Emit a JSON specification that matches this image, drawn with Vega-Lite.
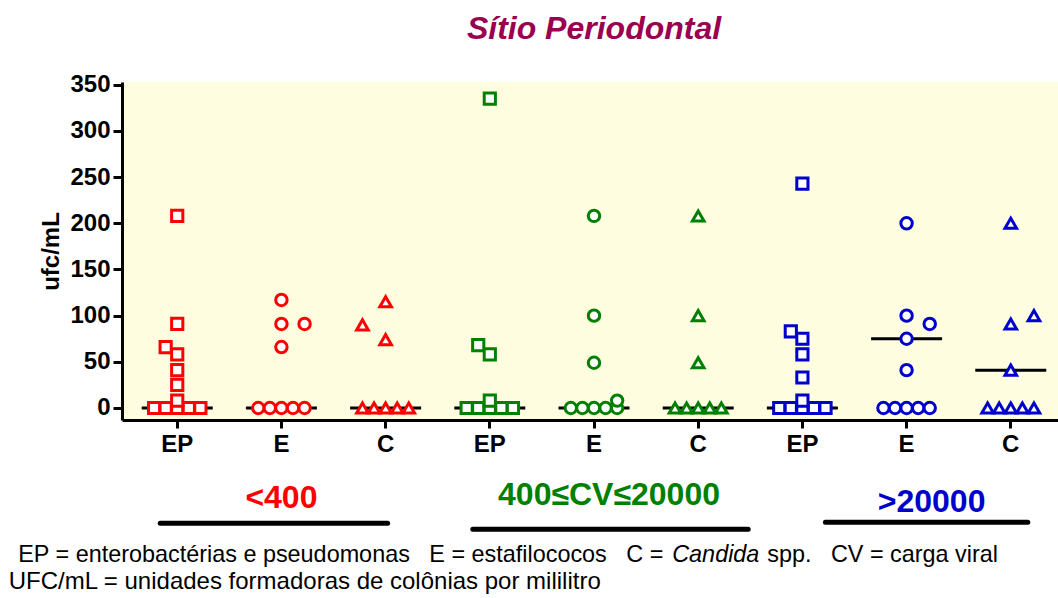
{
  "$schema": "https://vega.github.io/schema/vega-lite/v6.json",
  "autosize": {"type": "none"},
  "padding": {"left": 122, "top": 82, "right": 0, "bottom": 178},
  "width": 944,
  "height": 338,
  "background": "white",
  "config": {
    "font": "Liberation Sans",
    "view": {"fill": "#FEFDE0", "stroke": null},
    "axis": {
      "domainColor": "black", "domainWidth": 3, "tickColor": "black", "tickWidth": 3,
      "labelFontWeight": "bold", "labelFontSize": 24, "labelColor": "black", "grid": false,
      "titleFontWeight": "bold", "titleFontSize": 24, "titleColor": "black"
    }
  },
  "title": {
    "text": "Sítio Periodontal", "fontSize": 32, "fontStyle": "italic", "fontWeight": "bold",
    "color": "#990050", "anchor": "middle", "frame": "group", "baseline": "alphabetic", "offset": 2
  },
  "datasets": {
    "pontos": [
      {"cat": "EP1", "grupo": "<400", "org": "EP", "ufc": 208, "col": 0},
      {"cat": "EP1", "grupo": "<400", "org": "EP", "ufc": 91, "col": 0},
      {"cat": "EP1", "grupo": "<400", "org": "EP", "ufc": 66, "col": -1},
      {"cat": "EP1", "grupo": "<400", "org": "EP", "ufc": 58, "col": 0},
      {"cat": "EP1", "grupo": "<400", "org": "EP", "ufc": 41, "col": 0},
      {"cat": "EP1", "grupo": "<400", "org": "EP", "ufc": 25, "col": 0},
      {"cat": "EP1", "grupo": "<400", "org": "EP", "ufc": 0, "col": -2},
      {"cat": "EP1", "grupo": "<400", "org": "EP", "ufc": 0, "col": -1},
      {"cat": "EP1", "grupo": "<400", "org": "EP", "ufc": 0, "col": 0},
      {"cat": "EP1", "grupo": "<400", "org": "EP", "ufc": 0, "col": 1},
      {"cat": "EP1", "grupo": "<400", "org": "EP", "ufc": 0, "col": 2},
      {"cat": "EP1", "grupo": "<400", "org": "EP", "ufc": 8, "col": 0},
      {"cat": "E1", "grupo": "<400", "org": "E", "ufc": 117, "col": 0},
      {"cat": "E1", "grupo": "<400", "org": "E", "ufc": 91, "col": 0},
      {"cat": "E1", "grupo": "<400", "org": "E", "ufc": 91, "col": 2},
      {"cat": "E1", "grupo": "<400", "org": "E", "ufc": 66, "col": 0},
      {"cat": "E1", "grupo": "<400", "org": "E", "ufc": 0, "col": -2},
      {"cat": "E1", "grupo": "<400", "org": "E", "ufc": 0, "col": -1},
      {"cat": "E1", "grupo": "<400", "org": "E", "ufc": 0, "col": 0},
      {"cat": "E1", "grupo": "<400", "org": "E", "ufc": 0, "col": 1},
      {"cat": "E1", "grupo": "<400", "org": "E", "ufc": 0, "col": 2},
      {"cat": "C1", "grupo": "<400", "org": "C", "ufc": 115, "col": 0},
      {"cat": "C1", "grupo": "<400", "org": "C", "ufc": 90, "col": -2},
      {"cat": "C1", "grupo": "<400", "org": "C", "ufc": 74, "col": 0},
      {"cat": "C1", "grupo": "<400", "org": "C", "ufc": 0, "col": -2},
      {"cat": "C1", "grupo": "<400", "org": "C", "ufc": 0, "col": -1},
      {"cat": "C1", "grupo": "<400", "org": "C", "ufc": 0, "col": 0},
      {"cat": "C1", "grupo": "<400", "org": "C", "ufc": 0, "col": 1},
      {"cat": "C1", "grupo": "<400", "org": "C", "ufc": 0, "col": 2},
      {"cat": "EP2", "grupo": "400≤CV≤20000", "org": "EP", "ufc": 335, "col": 0},
      {"cat": "EP2", "grupo": "400≤CV≤20000", "org": "EP", "ufc": 68, "col": -1},
      {"cat": "EP2", "grupo": "400≤CV≤20000", "org": "EP", "ufc": 58, "col": 0},
      {"cat": "EP2", "grupo": "400≤CV≤20000", "org": "EP", "ufc": 0, "col": -2},
      {"cat": "EP2", "grupo": "400≤CV≤20000", "org": "EP", "ufc": 0, "col": -1},
      {"cat": "EP2", "grupo": "400≤CV≤20000", "org": "EP", "ufc": 0, "col": 0},
      {"cat": "EP2", "grupo": "400≤CV≤20000", "org": "EP", "ufc": 0, "col": 1},
      {"cat": "EP2", "grupo": "400≤CV≤20000", "org": "EP", "ufc": 0, "col": 2},
      {"cat": "EP2", "grupo": "400≤CV≤20000", "org": "EP", "ufc": 8, "col": 0},
      {"cat": "E2", "grupo": "400≤CV≤20000", "org": "E", "ufc": 208, "col": 0},
      {"cat": "E2", "grupo": "400≤CV≤20000", "org": "E", "ufc": 100, "col": 0},
      {"cat": "E2", "grupo": "400≤CV≤20000", "org": "E", "ufc": 49, "col": 0},
      {"cat": "E2", "grupo": "400≤CV≤20000", "org": "E", "ufc": 0, "col": -2},
      {"cat": "E2", "grupo": "400≤CV≤20000", "org": "E", "ufc": 0, "col": -1},
      {"cat": "E2", "grupo": "400≤CV≤20000", "org": "E", "ufc": 0, "col": 0},
      {"cat": "E2", "grupo": "400≤CV≤20000", "org": "E", "ufc": 0, "col": 1},
      {"cat": "E2", "grupo": "400≤CV≤20000", "org": "E", "ufc": 0, "col": 2},
      {"cat": "E2", "grupo": "400≤CV≤20000", "org": "E", "ufc": 8, "col": 2},
      {"cat": "C2", "grupo": "400≤CV≤20000", "org": "C", "ufc": 208, "col": 0},
      {"cat": "C2", "grupo": "400≤CV≤20000", "org": "C", "ufc": 100, "col": 0},
      {"cat": "C2", "grupo": "400≤CV≤20000", "org": "C", "ufc": 49, "col": 0},
      {"cat": "C2", "grupo": "400≤CV≤20000", "org": "C", "ufc": 0, "col": -2},
      {"cat": "C2", "grupo": "400≤CV≤20000", "org": "C", "ufc": 0, "col": -1},
      {"cat": "C2", "grupo": "400≤CV≤20000", "org": "C", "ufc": 0, "col": 0},
      {"cat": "C2", "grupo": "400≤CV≤20000", "org": "C", "ufc": 0, "col": 1},
      {"cat": "C2", "grupo": "400≤CV≤20000", "org": "C", "ufc": 0, "col": 2},
      {"cat": "EP3", "grupo": ">20000", "org": "EP", "ufc": 243, "col": 0},
      {"cat": "EP3", "grupo": ">20000", "org": "EP", "ufc": 83, "col": -1},
      {"cat": "EP3", "grupo": ">20000", "org": "EP", "ufc": 75, "col": 0},
      {"cat": "EP3", "grupo": ">20000", "org": "EP", "ufc": 58, "col": 0},
      {"cat": "EP3", "grupo": ">20000", "org": "EP", "ufc": 33, "col": 0},
      {"cat": "EP3", "grupo": ">20000", "org": "EP", "ufc": 0, "col": -2},
      {"cat": "EP3", "grupo": ">20000", "org": "EP", "ufc": 0, "col": -1},
      {"cat": "EP3", "grupo": ">20000", "org": "EP", "ufc": 0, "col": 0},
      {"cat": "EP3", "grupo": ">20000", "org": "EP", "ufc": 0, "col": 1},
      {"cat": "EP3", "grupo": ">20000", "org": "EP", "ufc": 0, "col": 2},
      {"cat": "EP3", "grupo": ">20000", "org": "EP", "ufc": 8, "col": 0},
      {"cat": "E3", "grupo": ">20000", "org": "E", "ufc": 200, "col": 0},
      {"cat": "E3", "grupo": ">20000", "org": "E", "ufc": 100, "col": 0},
      {"cat": "E3", "grupo": ">20000", "org": "E", "ufc": 91, "col": 2},
      {"cat": "E3", "grupo": ">20000", "org": "E", "ufc": 75, "col": 0},
      {"cat": "E3", "grupo": ">20000", "org": "E", "ufc": 41, "col": 0},
      {"cat": "E3", "grupo": ">20000", "org": "E", "ufc": 0, "col": -2},
      {"cat": "E3", "grupo": ">20000", "org": "E", "ufc": 0, "col": -1},
      {"cat": "E3", "grupo": ">20000", "org": "E", "ufc": 0, "col": 0},
      {"cat": "E3", "grupo": ">20000", "org": "E", "ufc": 0, "col": 1},
      {"cat": "E3", "grupo": ">20000", "org": "E", "ufc": 0, "col": 2},
      {"cat": "C3", "grupo": ">20000", "org": "C", "ufc": 200, "col": 0},
      {"cat": "C3", "grupo": ">20000", "org": "C", "ufc": 100, "col": 2},
      {"cat": "C3", "grupo": ">20000", "org": "C", "ufc": 91, "col": 0},
      {"cat": "C3", "grupo": ">20000", "org": "C", "ufc": 41, "col": 0},
      {"cat": "C3", "grupo": ">20000", "org": "C", "ufc": 0, "col": -2},
      {"cat": "C3", "grupo": ">20000", "org": "C", "ufc": 0, "col": -1},
      {"cat": "C3", "grupo": ">20000", "org": "C", "ufc": 0, "col": 0},
      {"cat": "C3", "grupo": ">20000", "org": "C", "ufc": 0, "col": 1},
      {"cat": "C3", "grupo": ">20000", "org": "C", "ufc": 0, "col": 2}
    ],
    "medianas": [
      {"cat": "EP1", "mediana": 0}, {"cat": "E1", "mediana": 0}, {"cat": "C1", "mediana": 0},
      {"cat": "EP2", "mediana": 0}, {"cat": "E2", "mediana": 0}, {"cat": "C2", "mediana": 0},
      {"cat": "EP3", "mediana": 0}, {"cat": "E3", "mediana": 75}, {"cat": "C3", "mediana": 41}
    ]
  },
  "layer": [
    {
      "data": {"name": "medianas"},
      "mark": {"type": "tick", "color": "black", "size": 71, "thickness": 3, "opacity": 1},
      "encoding": {
        "x": {
          "field": "cat", "type": "nominal",
          "scale": {"domain": ["EP1", "E1", "C1", "EP2", "E2", "C2", "EP3", "E3", "C3"], "paddingInner": 0, "paddingOuter": 0.03},
          "axis": {"title": null, "labelAngle": 0, "tickSize": 8, "labelPadding": 4, "labelExpr": "slice(datum.label, 0, -1)"}
        },
        "y": {
          "field": "mediana", "type": "quantitative",
          "scale": {"domain": [-13, 353], "nice": false, "zero": false},
          "axis": {
            "title": "ufc/mL", "titlePadding": 6,
            "values": [0, 25, 50, 75, 100, 125, 150, 175, 200, 225, 250, 275, 300, 325, 350],
            "labelExpr": "datum.value % 50 == 0 ? datum.label : ''",
            "tickSize": {"condition": {"test": "datum.value % 50 == 0", "value": 9}, "value": 5},
            "labelPadding": 3
          }
        }
      }
    },
    {
      "data": {"name": "pontos"},
      "mark": {"type": "point", "filled": false, "fill": "white", "fillOpacity": 1, "strokeWidth": 3, "opacity": 1},
      "encoding": {
        "x": {"field": "cat", "type": "nominal"},
        "y": {"field": "ufc", "type": "quantitative"},
        "xOffset": {"field": "col", "type": "ordinal", "scale": {"domain": [-4, -3, -2, -1, 0, 1, 2, 3, 4]}},
        "stroke": {"field": "grupo", "type": "nominal", "scale": {"domain": ["<400", "400≤CV≤20000", ">20000"], "range": ["#FF0000", "#008000", "#0000CC"]}, "legend": null},
        "shape": {"field": "org", "type": "nominal", "scale": {"domain": ["EP", "E", "C"], "range": ["square", "circle", "triangle-up"]}, "legend": null},
        "size": {"field": "org", "type": "ordinal", "scale": {"domain": ["EP", "E", "C"], "range": [125, 135, 180]}, "legend": null}
      }
    },
    {
      "data": {"values": [{"texto": "<400"}]},
      "mark": {"type": "text", "clip": false, "color": "#FF0000", "fontSize": 32, "fontWeight": "bold", "baseline": "alphabetic", "align": "center"},
      "encoding": {"x": {"datum": "E1"}, "y": {"datum": -108.3}, "text": {"field": "texto"}}
    },
    {
      "data": {"values": [{"texto": "400≤CV≤20000"}]},
      "mark": {"type": "text", "clip": false, "color": "#008000", "fontSize": 32, "fontWeight": "bold", "baseline": "alphabetic", "align": "center", "dx": 15},
      "encoding": {"x": {"datum": "E2"}, "y": {"datum": -105}, "text": {"field": "texto"}}
    },
    {
      "data": {"values": [{"texto": ">20000"}]},
      "mark": {"type": "text", "clip": false, "color": "#0000CC", "fontSize": 32, "fontWeight": "bold", "baseline": "alphabetic", "align": "center", "dx": 25},
      "encoding": {"x": {"datum": "E3"}, "y": {"datum": -112.3}, "text": {"field": "texto"}}
    },
    {
      "data": {"values": [{"grupo": "<400"}]},
      "mark": {"type": "rule", "clip": false, "color": "black", "strokeWidth": 5, "strokeCap": "round", "xOffset": -17, "x2Offset": 2},
      "encoding": {"x": {"datum": "EP1"}, "x2": {"datum": "C1"}, "y": {"datum": -124.8}}
    },
    {
      "data": {"values": [{"grupo": "400≤CV≤20000"}]},
      "mark": {"type": "rule", "clip": false, "color": "black", "strokeWidth": 5, "strokeCap": "round", "xOffset": -17, "x2Offset": 50},
      "encoding": {"x": {"datum": "EP2"}, "x2": {"datum": "C2"}, "y": {"datum": -131.4}}
    },
    {
      "data": {"values": [{"grupo": ">20000"}]},
      "mark": {"type": "rule", "clip": false, "color": "black", "strokeWidth": 5, "strokeCap": "round", "xOffset": 23, "x2Offset": 17},
      "encoding": {"x": {"datum": "EP3"}, "x2": {"datum": "C3"}, "y": {"datum": -123.8}}
    },
    {
      "data": {"values": [{"texto": "EP = enterobactérias e pseudomonas\u00a0\u00a0\u00a0E = estafilococos\u00a0\u00a0\u00a0C ="}]},
      "mark": {"type": "text", "clip": false, "color": "black", "fontSize": 23.4, "baseline": "alphabetic", "align": "left", "dx": -159},
      "encoding": {"x": {"datum": "EP1"}, "y": {"datum": -166.8}, "text": {"field": "texto"}}
    },
    {
      "data": {"values": [{"texto": "Candida"}]},
      "mark": {"type": "text", "clip": false, "color": "black", "fontSize": 23.4, "fontStyle": "italic", "baseline": "alphabetic", "align": "left", "dx": 495},
      "encoding": {"x": {"datum": "EP1"}, "y": {"datum": -166.8}, "text": {"field": "texto"}}
    },
    {
      "data": {"values": [{"texto": "spp.\u00a0\u00a0\u00a0CV = carga viral"}]},
      "mark": {"type": "text", "clip": false, "color": "black", "fontSize": 23.4, "baseline": "alphabetic", "align": "left", "dx": 590},
      "encoding": {"x": {"datum": "EP1"}, "y": {"datum": -166.8}, "text": {"field": "texto"}}
    },
    {
      "data": {"values": [{"texto": "UFC/mL = unidades formadoras de colônias por mililitro"}]},
      "mark": {"type": "text", "clip": false, "color": "black", "fontSize": 24, "baseline": "alphabetic", "align": "left", "dx": -168.5},
      "encoding": {"x": {"datum": "EP1"}, "y": {"datum": -196}, "text": {"field": "texto"}}
    }
  ]
}
